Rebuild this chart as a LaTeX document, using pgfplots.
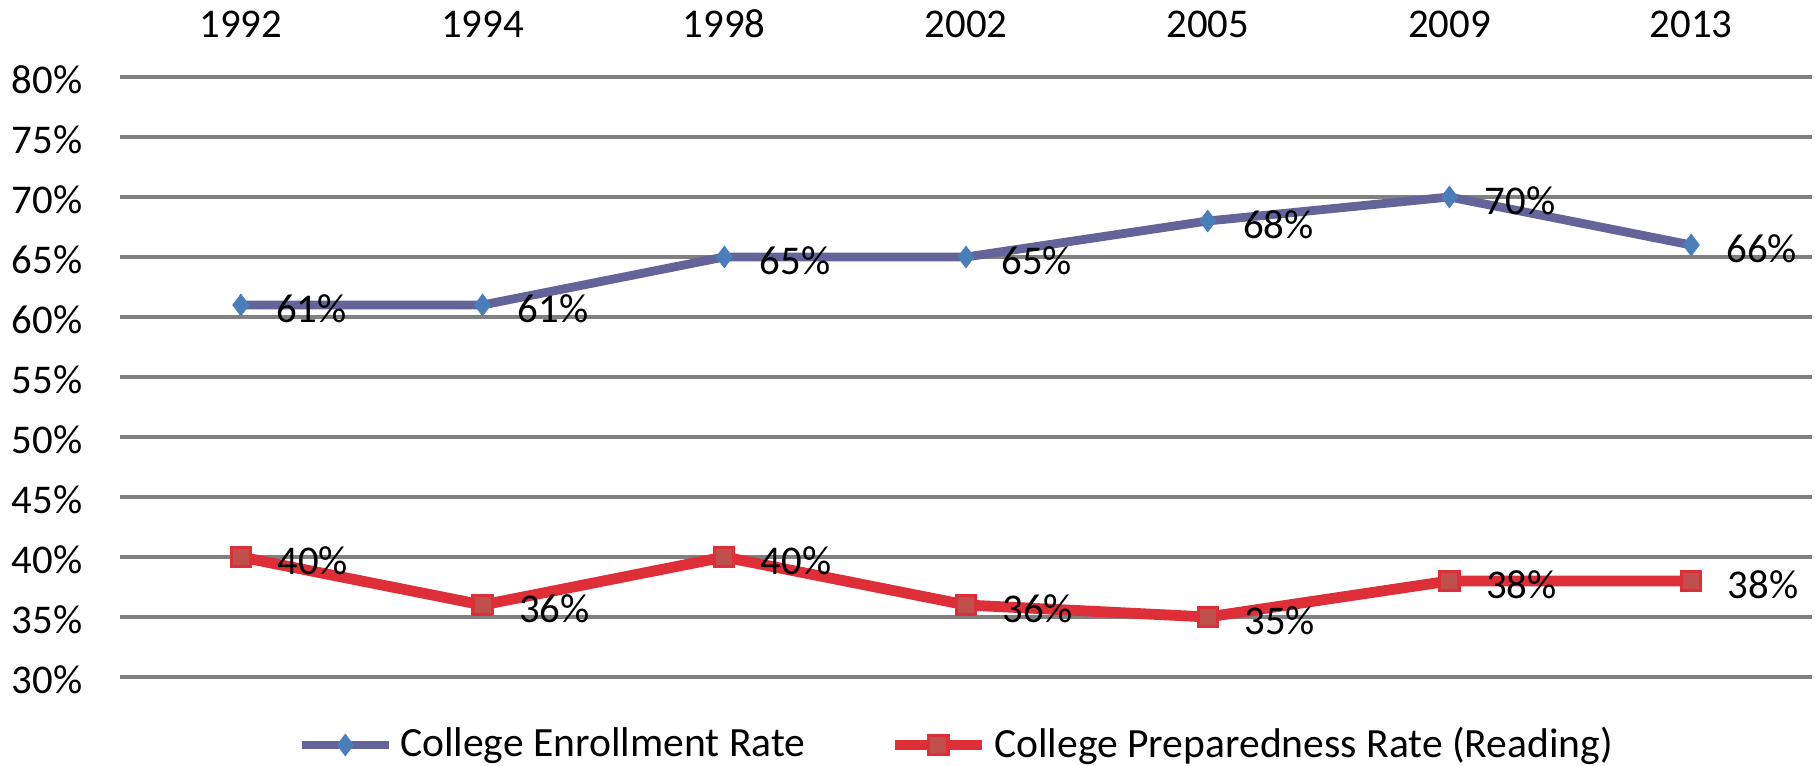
\documentclass[border=0pt]{standalone}
\usepackage{pgfplots}
\pgfplotsset{compat=1.18}
\usepackage{fontspec}
\setmainfont{Carlito}

\definecolor{enrl}{RGB}{100,100,155}
\definecolor{enrlmark}{RGB}{74,126,187}
\definecolor{prep}{RGB}{222,46,55}
\definecolor{prepmark}{RGB}{192,80,77}
\definecolor{gridc}{RGB}{128,128,128}

\newcommand{\chartfont}{\fontsize{10.2}{12}\selectfont}
\newcommand{\legfont}{\fontsize{10.4}{12}\selectfont}

\begin{document}
\begin{tikzpicture}
\begin{axis}[
    scale only axis,
    width=423pt, height=150pt,
    xmin=-0.5, xmax=6.5,
    ymin=30, ymax=80,
    clip=false,
    axis line style={draw=none},
    major tick length=0pt,
    xtick={0,...,6},
    xticklabels={1992,1994,1998,2002,2005,2009,2013},
    xticklabel pos=top,
    xticklabel style={anchor=south, inner sep=0pt, yshift=9.6pt},
    ytick={30,35,...,80},
    yticklabel={\pgfmathprintnumber[assume math mode=true,fixed,precision=0]{\tick}\%},
    yticklabel style={anchor=east, inner sep=0pt, xshift=-9.25pt, yshift=-0.75pt},
    tick label style={font=\chartfont, black},
    ymajorgrids,
    grid style={gridc, line width=0.8pt},
    nodes near coords={\pgfmathprintnumber[assume math mode=true,fixed,precision=0]{\pgfplotspointmeta}\%},
    every node near coord/.append style={anchor=west, inner sep=0pt, xshift=8.75pt, yshift=-1pt, font=\chartfont, black},
    legend columns=-1,
    legend style={draw=none, fill=none, font=\legfont,
        at={(axis description cs:0.4935,0)}, anchor=center, yshift=-17pt,
        nodes={inner sep=0pt},
        /tikz/every odd column/.append style={column sep=1.75pt},
        /tikz/every even column/.append style={column sep=21pt}},
    legend image code/.code={
        \draw[mark repeat=2, mark phase=2] plot coordinates {(0pt,0pt) (10.9pt,0pt) (21.75pt,0pt)};
    },
]
\addplot[enrl, line width=2.2pt, mark=diamond*, mark size=2.7pt,
    mark options={fill=enrlmark, draw=enrlmark, line width=0.2pt}]
    coordinates {(0,61) (1,61) (2,65) (3,65) (4,68) (5,70) (6,66)};
\addlegendentry{College Enrollment Rate}
\addplot[prep, line width=2.7pt, mark=square*, mark size=2.4pt,
    mark options={fill=prepmark, draw=prep, line width=0.8pt}]
    coordinates {(0,40) (1,36) (2,40) (3,36) (4,35) (5,38) (6,38)};
\addlegendentry{College Preparedness Rate (Reading)}
\end{axis}
\pgfresetboundingbox
\path[use as bounding box] (-30pt,-22.25pt) rectangle (423.75pt,169.25pt);
\end{tikzpicture}
\end{document}
